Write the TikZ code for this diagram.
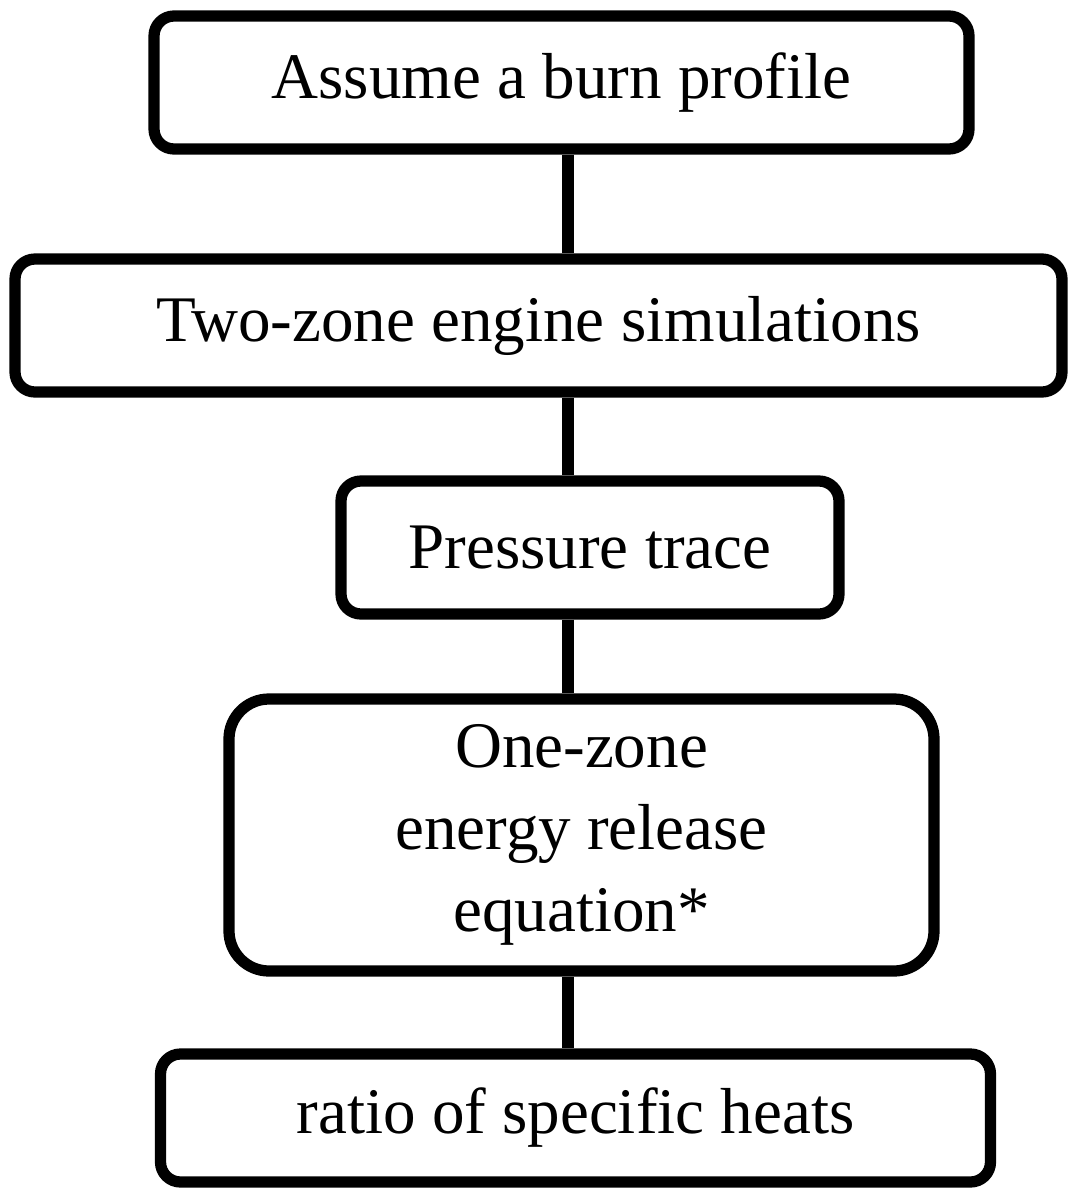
\documentclass[tikz,border=0pt]{standalone}
\usepackage{fontspec}
\setmainfont{Liberation Serif}
\usetikzlibrary{shapes,positioning}

\begin{document}
\begin{tikzpicture}[node distance=2.5cm]
    % Define styles
    \tikzstyle{stage} = [draw, rectangle, line width=3.2pt, rounded corners=0.2cm, minimum height=1.33cm, inner sep=0pt, align=center, font=\fontsize{18.5}{23.3}\selectfont]
    \tikzstyle{bigstage} = [stage, rounded corners=0.4cm, minimum height=2.72cm]
    \tikzstyle{link} = [line width=3.2pt]

    \useasboundingbox (0,0) rectangle (10.69,-11.92);

    % Step 1: burn profile
    \node[stage, minimum width=8.15cm] (burn) at (5.615,-0.825) {Assume a burn profile};

    % Step 2: two-zone simulations
    \node[stage, minimum width=10.47cm, below of=burn, xshift=-0.23cm, yshift=0.07cm] (twozone) {Two-zone engine simulations};

    % Step 3: pressure
    \node[stage, minimum width=4.98cm, below of=twozone, xshift=0.515cm, yshift=0.28cm] (pressure) {Pressure trace};

    % Step 4: one-zone equation
    \node[bigstage, minimum width=7.05cm, below of=pressure, xshift=-0.085cm, yshift=-0.375cm] (onezone) {One-zone\\energy release\\equation*};

    % Step 5: result
    \node[stage, minimum width=8.3cm, minimum height=1.28cm, below of=onezone, xshift=-0.06cm, yshift=-0.33cm] (gamma) {ratio of specific heats};

    % Connectors
    \coordinate (spine) at (5.68,0);
    \draw[link] (burn.south -| spine) -- (twozone.north -| spine);
    \draw[link] (twozone.south -| spine) -- (pressure.north -| spine);
    \draw[link] (pressure.south -| spine) -- (onezone.north -| spine);
    \draw[link] (onezone.south -| spine) -- (gamma.north -| spine);
\end{tikzpicture}
\end{document}
